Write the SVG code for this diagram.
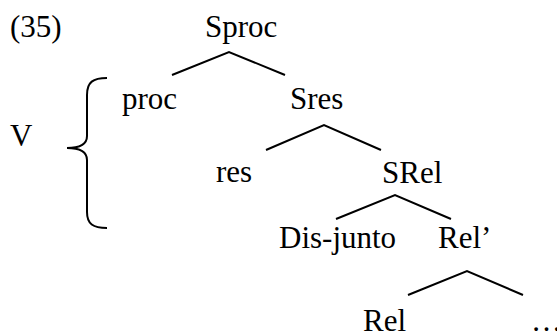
<svg xmlns="http://www.w3.org/2000/svg" width="557" height="334" viewBox="0 0 557 334">
<style>
.t{font-family:'Liberation Serif','Times New Roman',Times,serif;font-size:31px;fill:#000}
.e{stroke:#000;stroke-width:2;fill:none;stroke-linecap:butt}
</style>
<rect width="557" height="334" fill="#fff"/>
<g class="t" font-family="Liberation Serif, Times New Roman, serif">
<text id="label35" x="10" y="37">(35)</text>
<g id="n-sproc"><text x="205" y="37">Sproc</text></g>
<g id="n-proc"><text x="122" y="109">proc</text></g>
<g id="n-sres"><text x="290" y="109">Sres</text></g>
<g id="n-res"><text x="216" y="182">res</text></g>
<g id="n-srel"><text x="382" y="183">SRel</text></g>
<g id="n-disjunto"><text x="279" y="248">Dis-junto</text></g>
<g id="n-relbar"><text x="438" y="248">Rel’</text></g>
<g id="n-rel"><text x="363" y="331">Rel</text></g>
<g id="n-dots"><text x="531" y="331">…</text></g>
<g id="n-v"><text x="10" y="146">V</text></g>
</g>
<g id="brace"><path class="e" d="M107,78 C93,78 87,82 87,95 L87,136 C87,144 80,148 67,148 C80,148 87,152 87,160 L87,212 C87,224 93,228 107,228"/></g>
<g id="connectors">
<path class="e" d="M172,75 L229,52 L285,75"/>
<path class="e" d="M266,150 L324,125 L381,150"/>
<path class="e" d="M336,219 L395,195 L451,219"/>
<path class="e" d="M408,295 L467,271 L523,295"/>
</g>
</svg>
